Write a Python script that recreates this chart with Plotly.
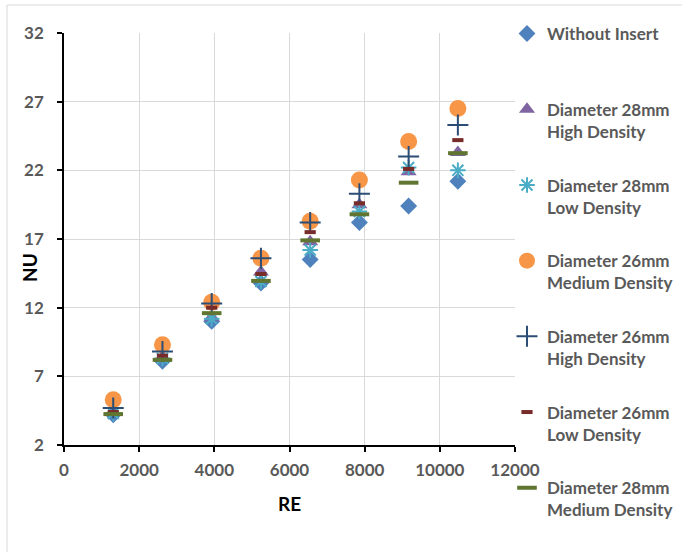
import plotly.graph_objects as go

re_vals = [1310, 2620, 3930, 5240, 6550, 7860, 9170, 10480]

series_names = [
    "Without Insert<br> ",
    "Diameter 28mm<br>High Density",
    "Diameter 28mm<br>Low Density",
    "Diameter 26mm<br>Medium Density",
    "Diameter 26mm<br>High Density",
    "Diameter 26mm<br>Low Density",
    "Diameter 28mm<br>Medium Density",
]

nu_without = [4.2, 8.1, 11.0, 13.8, 15.5, 18.2, 19.4, 21.2]
nu_28_high = [4.4, 8.4, 11.3, 14.6, 16.8, 19.5, 21.9, 23.3]
nu_28_low = [4.3, 8.3, 11.2, 13.9, 16.2, 19.0, 22.2, 22.0]
nu_26_med = [5.3, 9.3, 12.4, 15.6, 18.3, 21.3, 24.1, 26.5]
nu_26_high = [4.7, 8.8, 12.3, 15.6, 18.2, 20.3, 23.0, 25.3]
nu_26_low = [4.4, 8.5, 12.0, 14.45, 17.5, 19.6, 22.1, 24.2]
nu_28_med = [4.25, 8.2, 11.6, 13.95, 16.9, 18.8, 21.1, 23.25]

y_ticks = [2, 7, 12, 17, 22, 27, 32]
x_ticks = [0, 2000, 4000, 6000, 8000, 10000, 12000]

series_values = [nu_without, nu_28_high, nu_28_low, nu_26_med, nu_26_high, nu_26_low, nu_28_med]
styles = [
    dict(symbol="diamond", color="#4F81BD", size=13, line=dict(width=0)),
    dict(symbol="triangle-up", color="#8064A2", size=14, line=dict(width=0)),
    dict(symbol="asterisk-open", color="#4BACC6", size=13, line=dict(width=2, color="#4BACC6")),
    dict(symbol="circle", color="#F79646", size=17, line=dict(width=0)),
    dict(symbol="cross-thin-open", color="#2C4D75", size=15, line=dict(width=2, color="#2C4D75")),
    dict(symbol="line-ew-open", color="#772C2A", size=8, line=dict(width=4, color="#772C2A")),
    dict(symbol="line-ew-open", color="#5F7530", size=14, line=dict(width=4, color="#5F7530")),
]

fig = go.Figure()
for i, (name, vals, st) in enumerate(zip(series_names, series_values, styles)):
    fig.add_trace(go.Scatter(
        x=re_vals, y=vals, mode="markers", name=name,
        legendgroup=f"g{i}", marker=st,
    ))

tick_font = dict(family="Lato", size=17, color="#595959", weight="bold")

L, R, T, B = 64, 167, 33, 107
W, H = 682, 552
pw, ph = W - L - R, H - T - B

def px_x(p):
    return (p - L) / pw

def px_y(p):
    return (H - B - p) / ph

fig.update_layout(
    width=W, height=H,
    margin=dict(l=L, r=R, t=T, b=B, autoexpand=False),
    paper_bgcolor="white", plot_bgcolor="white",
    showlegend=True,
    legend=dict(
        x=px_x(507), y=px_y(16), xanchor="left", yanchor="top",
        font=dict(family="Lato", size=17, color="#595959", weight="bold"),
        tracegroupgap=28.5, valign="top", itemsizing="trace",
        bgcolor="rgba(0,0,0,0)", maxheight=700,
    ),
    xaxis=dict(
        range=[0, 12000], tickvals=x_ticks, ticktext=[str(v) for v in x_ticks],
        showgrid=True, gridcolor="#D9D9D9", gridwidth=1.3,
        showline=True, linecolor="black", linewidth=1.5,
        ticks="outside", ticklen=5, tickcolor="black", tickwidth=1.5,
        tickfont=tick_font, zeroline=False, ticklabelstandoff=4,
    ),
    yaxis=dict(
        range=[2, 32], tickvals=y_ticks, ticktext=[str(v) for v in y_ticks],
        showgrid=True, gridcolor="#D9D9D9", gridwidth=1.3,
        showline=True, linecolor="black", linewidth=1.5,
        ticks="outside", ticklen=5, tickcolor="black", tickwidth=1.5,
        tickfont=tick_font, zeroline=False, ticklabelstandoff=10,
    ),
    annotations=[
        dict(text="NU", x=px_x(29), y=px_y(268), xref="paper", yref="paper",
             xanchor="center", yanchor="middle",
             showarrow=False, textangle=-90,
             font=dict(family="Lato", size=19, color="black", weight="bold")),
        dict(text="RE", x=px_x(289), y=px_y(503), xref="paper", yref="paper",
             xanchor="center", yanchor="middle",
             showarrow=False,
             font=dict(family="Lato", size=19, color="black", weight="bold")),
    ],
    shapes=[
        dict(type="rect", xref="paper", yref="paper",
             x0=px_x(7), x1=px_x(700), y0=px_y(570), y1=px_y(5),
             line=dict(color="#D9D9D9", width=1), layer="below"),
    ],
)

fig.write_html("out.html", config={"displayModeBar": False},
               post_script="document.body.style.margin='0';")
